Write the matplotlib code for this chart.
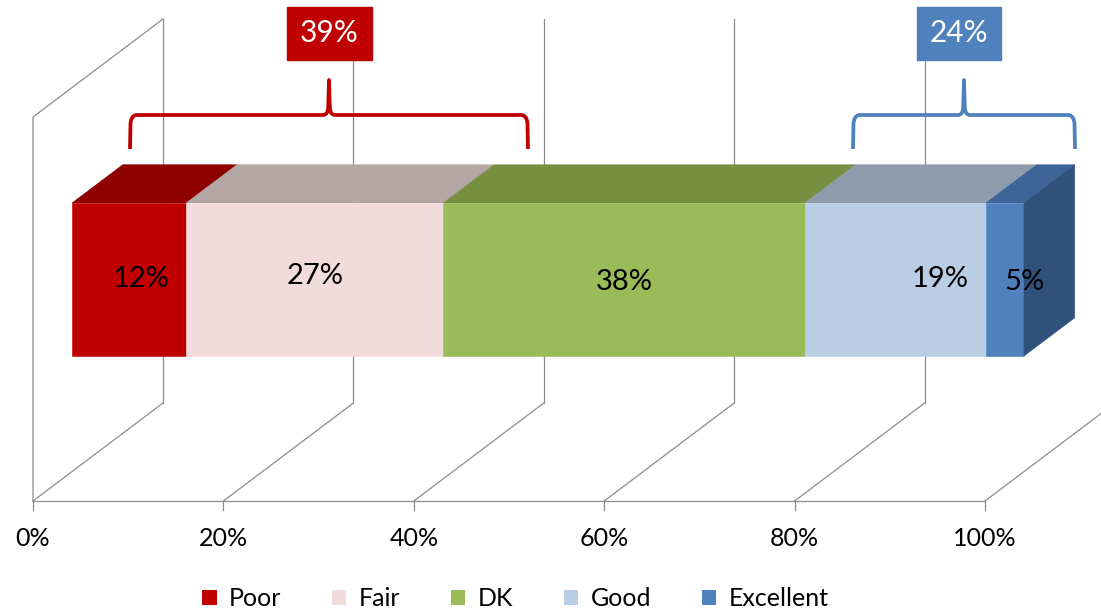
import matplotlib
matplotlib.use("Agg")
import matplotlib.pyplot as plt
from matplotlib.patches import Polygon, Rectangle, PathPatch, Patch
from matplotlib.path import Path

# ---------------- data ----------------
categories = ["Poor", "Fair", "DK", "Good", "Excellent"]
values = [12, 27, 38, 19, 4]
value_labels = ["12%", "27%", "38%", "19%", "5%"]
tick_values = [0, 20, 40, 60, 80, 100]
tick_labels = ["0%", "20%", "40%", "60%", "80%", "100%"]
group_labels = ["39%", "24%"]

# ---------------- style ----------------
front_colors = ["#C00000", "#F2DCDB", "#9BBB59", "#B9CDE5", "#4F81BD"]
top_colors = ["#8E0000", "#B5A6A6", "#778F40", "#8D9BAD", "#3D6597"]
side_color = "#30517A"
group_colors = ["#C00000", "#4F81BD"]
grid_color = "#8C8C8C"
FONT = ["Lato", "DejaVu Sans"]

PX_PER_PCT = 9.52
X0PX = 33.0
FLOOR_PY = 501.0
W, H = 1101, 613

fig = plt.figure(figsize=(W / 100, H / 100), dpi=100)
ax = fig.add_axes([0, 0, 1, 1])
ax.set_xlim(-X0PX / PX_PER_PCT, (W - X0PX) / PX_PER_PCT)
ax.set_ylim(FLOOR_PY - H, FLOOR_PY)
ax.axis("off")

DEPTH_X = 130 / PX_PER_PCT
DEPTH_Y = 98.0
WALL_H = 384.0


def P(p, h, d):
    return (p + d * DEPTH_X, h + d * DEPTH_Y)


def px(xp, yp):
    return ((xp - X0PX) / PX_PER_PCT, FLOOR_PY - yp)


# ---------------- walls / grid ----------------
lw_grid = 0.9
for t, tl in zip(tick_values, tick_labels):
    a, b = P(t, 0, 0), P(t, 0, 1)
    ax.plot([a[0], b[0]], [a[1], b[1]], color=grid_color, lw=lw_grid, zorder=1)
    c = P(t, WALL_H, 1)
    ax.plot([b[0], c[0]], [b[1], c[1]], color=grid_color, lw=lw_grid, zorder=1)
    ax.plot([t, t], [0, -9], color=grid_color, lw=lw_grid, zorder=1)
    ax.text(t, -38, tl, ha="center", va="center",
            fontsize=18, family=FONT, color="black")
# left wall
a, b, c = P(0, 0, 0), P(0, WALL_H, 0), P(0, WALL_H, 1)
ax.plot([a[0], b[0], c[0]], [a[1], b[1], c[1]], color=grid_color, lw=lw_grid, zorder=1)
# front floor line
ax.plot([0, 100], [0, 0], color=grid_color, lw=lw_grid, zorder=1)

# ---------------- 3D bar ----------------
D0, D1 = 0.30, 0.69
H0, H1 = 115.6, 268.6
label_dx = [1.26, 0.0, 0.0, 4.7, 2.0]
label_dy = [0.0, 3.0, -2.5, 0.0, -2.5]
cum = 0.0
for i, v in enumerate(values):
    l, r = cum, cum + v
    top = [P(l, H1, D0), P(r, H1, D0), P(r, H1, D1), P(l, H1, D1)]
    front = [P(l, H0, D0), P(r, H0, D0), P(r, H1, D0), P(l, H1, D0)]
    ax.add_patch(Polygon(top, closed=True, facecolor=top_colors[i],
                         edgecolor=top_colors[i], lw=0.4, zorder=3))
    ax.add_patch(Polygon(front, closed=True, facecolor=front_colors[i],
                         edgecolor=front_colors[i], lw=0.4, zorder=3))
    cx, cy = P((l + r) / 2 + label_dx[i], (H0 + H1) / 2 + label_dy[i], D0)
    ax.text(cx, cy, value_labels[i], ha="center", va="center", fontsize=21,
            family=FONT, color="black", zorder=6)
    cum = r
side = [P(cum, H0, D0), P(cum, H1, D0), P(cum, H1, D1), P(cum, H0, D1)]
ax.add_patch(Polygon(side, closed=True, facecolor=side_color, edgecolor=side_color,
                     lw=0.4, zorder=3))


# ---------------- braces & boxes ----------------
def brace(x0, x1, xm, yh, yt, yb, color):
    r = 7
    pts = [
        (x0, yb), (x0 + 0.5, yh + r + 2), (x0 + 1, yh), (x0 + r, yh),
        (xm - 6, yh), (xm - 1, yh), (xm - 0.8, yh - 8), (xm, yt),
        (xm + 0.8, yh - 8), (xm + 1, yh), (xm + 6, yh),
        (x1 - r, yh), (x1 - 1, yh), (x1 - 0.5, yh + r + 2), (x1, yb),
    ]
    codes = [
        Path.MOVETO, Path.LINETO, Path.CURVE3, Path.CURVE3,
        Path.LINETO, Path.CURVE3, Path.CURVE3, Path.LINETO,
        Path.LINETO, Path.CURVE3, Path.CURVE3,
        Path.LINETO, Path.CURVE3, Path.CURVE3, Path.LINETO,
    ]
    verts = [px(*p) for p in pts]
    ax.add_patch(PathPatch(Path(verts, codes), facecolor="none", edgecolor=color,
                           lw=2.7, capstyle="butt", joinstyle="round", zorder=4))


brace(130, 528, 329, 115, 80, 149, group_colors[0])
brace(853, 1075, 964, 115, 80, 149, group_colors[1])

boxes = [(287, 372), (917, 1001)]
for (bx0, bx1), lab, col in zip(boxes, group_labels, group_colors):
    x0d, y0d = px(bx0, 60)
    x1d, y1d = px(bx1, 7)
    ax.add_patch(Rectangle((x0d, y0d), x1d - x0d, y1d - y0d, facecolor=col,
                           edgecolor=col, zorder=5))
    ax.text((x0d + x1d) / 2, (y0d + y1d) / 2 + 1, lab, ha="center", va="center",
            fontsize=21.5, family=FONT, color="white", zorder=6)

# ---------------- legend ----------------
handles = [Patch(facecolor=c, edgecolor="none") for c in front_colors]
leg = ax.legend(handles, categories, loc="center left",
                bbox_to_anchor=(202 / W, 1 - 599 / H), ncol=5, frameon=False,
                prop={"family": FONT, "size": 18}, handlelength=0.58,
                handleheight=0.58, handletextpad=0.5, columnspacing=2.02,
                borderpad=0, borderaxespad=0)

fig.savefig("out.png", dpi=100)
